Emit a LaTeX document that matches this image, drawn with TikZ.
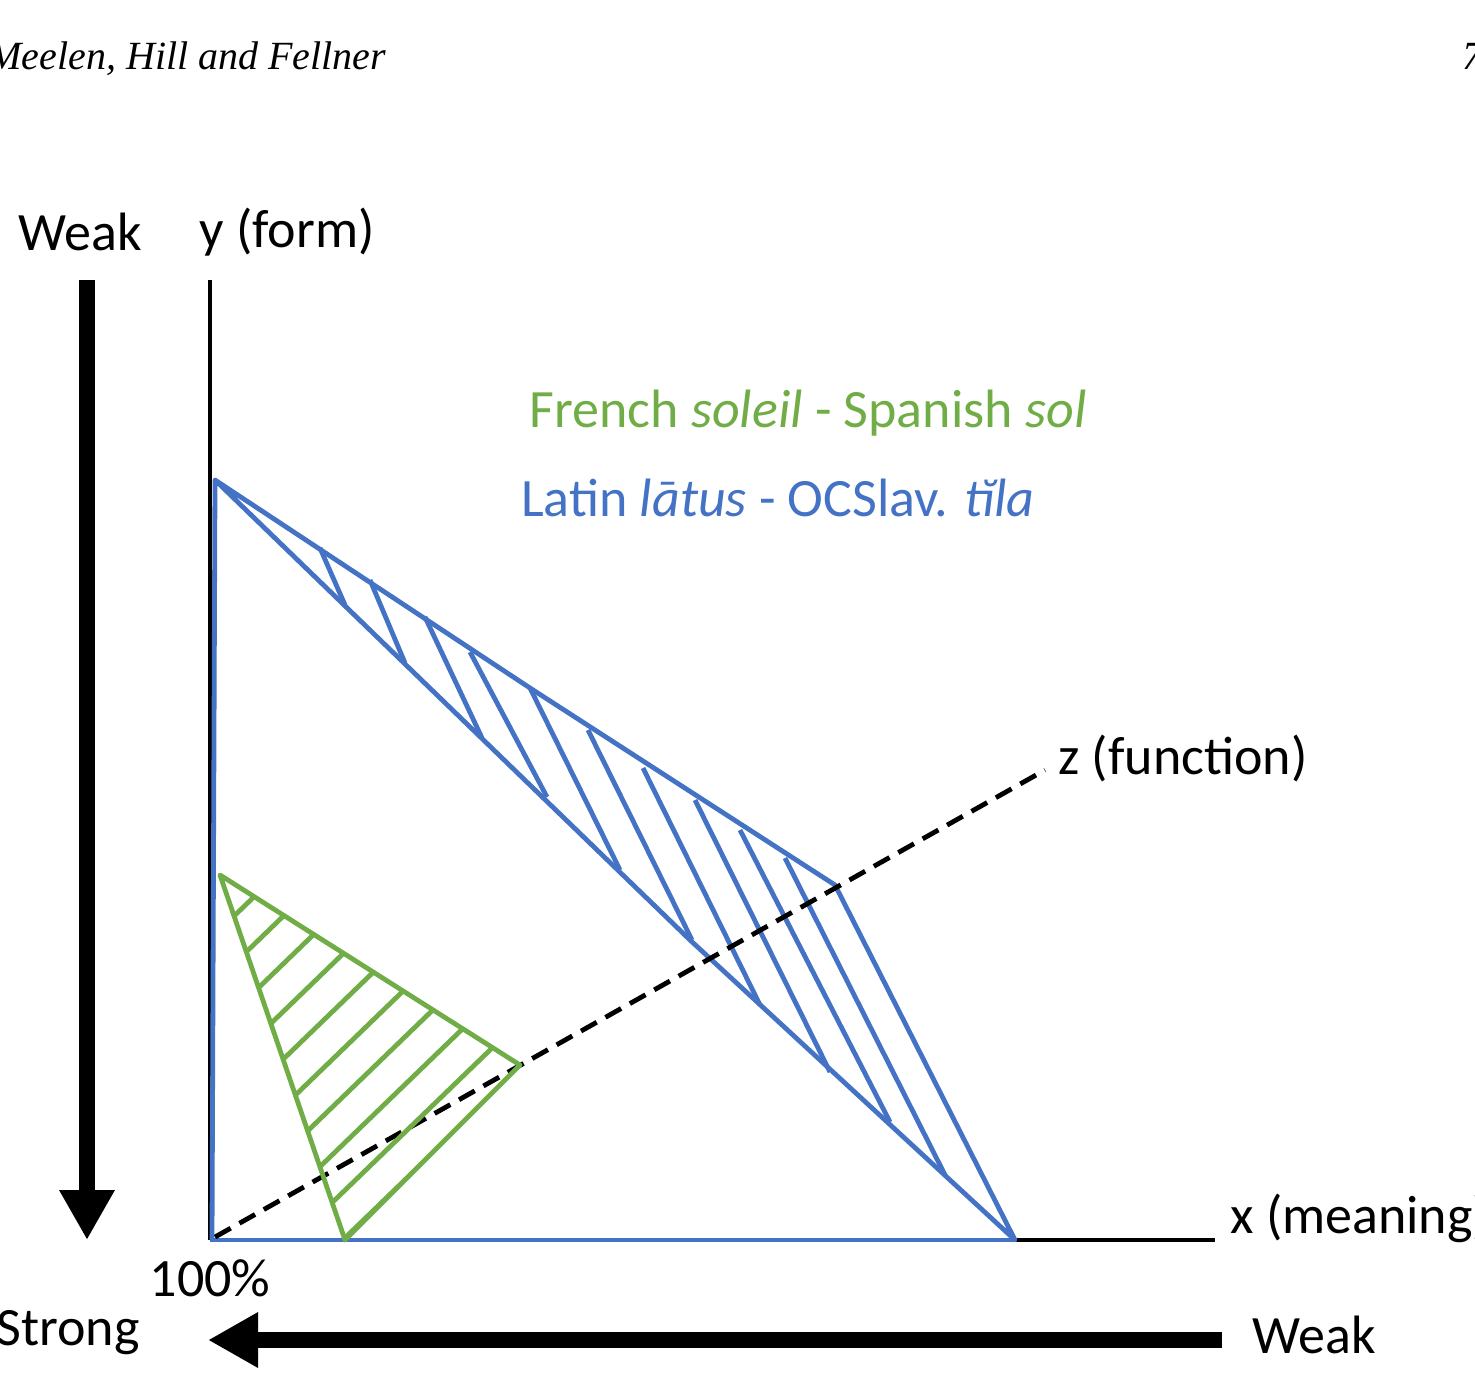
\documentclass[tikz,border=0pt]{standalone}
\usepackage{fontspec}
\setmainfont{Carlito}
\newfontfamily\hdr{Liberation Serif}
\usetikzlibrary{arrows.meta}
\definecolor{gr}{RGB}{112,173,71}
\definecolor{bl}{RGB}{68,114,196}
\begin{document}
\begin{tikzpicture}[x=0.5pt,y=-0.5pt,
  lab/.style={font=\fontsize{27}{31}\selectfont,inner sep=0},
  hl/.style={bl,line width=2.4pt},
  gl/.style={gr,line width=2.4pt}]
\useasboundingbox (0,0) rectangle (1475,1391);
\node[font=\hdr\itshape\fontsize{20}{24}\selectfont,anchor=base west,inner sep=0] (hd) at (-12,70) {Meelen, Hill and Fellner};
\node[font=\hdr\itshape\fontsize{20}{24}\selectfont,anchor=base west,inner sep=0] (pg) at (1462,70) {7};
\node[lab] (wk1) at (80,232) {Weak};
\node[lab] (yl) at (287,232) {y (form)};
% axes
\coordinate (o) at (210,1240);
\coordinate (yt) at (210,280);
\coordinate (xe) at (1215,1240);
\draw[line width=2.2pt] (o) -- (yt);
\draw[line width=2.2pt] (o) -- (xe);
\node[lab,anchor=west] (xl) at (1230,1218) {x (meaning)};
\node[lab] (pc) at (210,1278) {100\%};
\node[lab,anchor=east] (st) at (140,1333) {Strong};
\node[lab,anchor=west] (wk2) at (1252,1335) {Weak};
% big arrows
\coordinate (a1) at (87,280); \coordinate (a2) at (87,1240);
\draw[line width=8pt,-{Triangle[width=26pt,length=25pt]}] (a1) -- (a2);
\coordinate (b1) at (1222,1340); \coordinate (b2) at (208,1340);
\draw[line width=8pt,-{Triangle[width=26pt,length=25pt]}] (b1) -- (b2);
% blue shape
\coordinate (p1) at (215,480);
\coordinate (p2) at (835,885);
\coordinate (p3) at (1015,1240);
\draw[hl,line join=round] (212,1240) -- (p1) -- (530,688) -- (p2) -- (p3) -- (690,940) -- (p1);
\draw[hl] (o) -- (p3);
\foreach \a/\b/\c/\d in {320/548/345/605, 370/580/405/663, 425/617/482/738, 470/652/547/797, 530/688/620/870, 588/730/692/940, 643/768/760/1005, 695/800/830/1072, 740/830/890/1122, 785/858/945/1175}
  \draw[hl] (\a,\b) -- (\c,\d);
% dashed z axis
\coordinate (ze) at (1045,770);
\draw[line width=2.4pt,dash pattern=on 9pt off 5pt] (215,1237) -- (ze);
\node[lab,anchor=west] (zl) at (1058,758) {z (function)};
% green triangle
\coordinate (g1) at (220,875);
\coordinate (g2) at (520,1065);
\coordinate (g3) at (345,1240);
\draw[gl,line join=round] (g1) -- (g2) -- (g3) -- cycle;
\begin{scope}
\clip (g1) -- (g2) -- (g3) -- cycle;
\foreach \k in {0,...,9}
  \draw[gl] (230+\k*10,920+\k*38) -- ++(300,-290);
\end{scope}
\node[lab,gr] (fr) at (808,413) {French \textit{soleil} - Spanish \textit{sol}};
\node[lab,bl] (la) at (778,498) {Latin \textit{lātus} - OCSlav. \textit{tĭla}};
\end{tikzpicture}
\end{document}
